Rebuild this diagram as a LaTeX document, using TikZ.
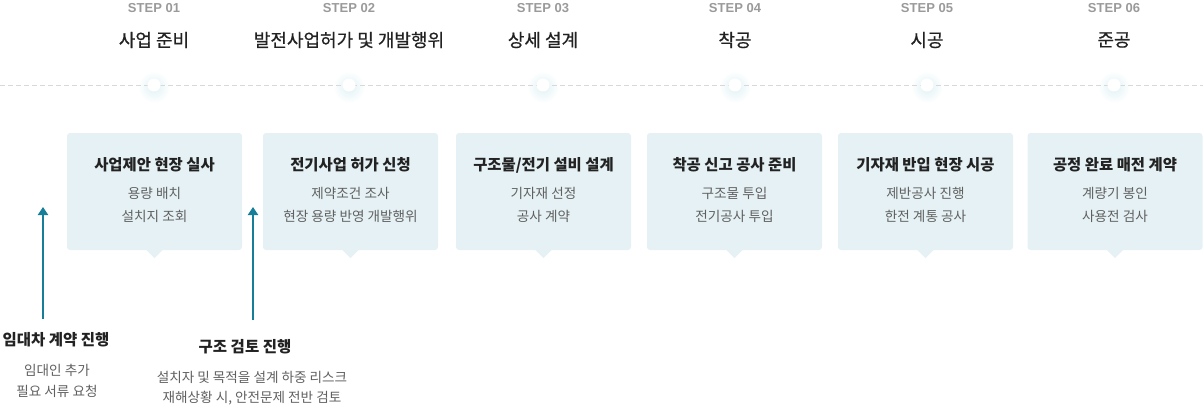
\documentclass[tikz,border=0pt]{standalone}
\usepackage{fontspec}
\setmainfont{Noto Sans CJK KR}
\newfontfamily\stepfont{Liberation Sans}
\newfontfamily\medfont[FakeBold=0.6]{Noto Sans CJK KR}
\usetikzlibrary{arrows.meta}
\definecolor{boxc}{HTML}{E5F1F4}
\definecolor{teal}{HTML}{167E98}
\definecolor{dashc}{HTML}{D8D8D8}
\definecolor{stepc}{HTML}{9A9A9A}
\definecolor{subc}{HTML}{606060}
\definecolor{titc}{HTML}{222222}
\definecolor{glowc}{HTML}{E0F1F5}
\tikzset{
  x=1pt, y=-1pt,
  boxnode/.style={fill=boxc, rounded corners=3pt, minimum width=175pt, minimum height=117pt, inner sep=0pt},
  steplbl/.style={font=\stepfont\bfseries\fontsize{13}{15}\selectfont, text=stepc, inner sep=0pt},
  toptitle/.style={font=\medfont\fontsize{18}{21}\selectfont, text=titc, inner sep=0pt},
  boxtitle/.style={font=\bfseries\fontsize{15.4}{18}\selectfont, text=titc, inner sep=0pt},
  subtxt/.style={font=\fontsize{13.6}{16}\selectfont, text=subc, inner sep=0pt},
  lowtitle/.style={font=\bfseries\fontsize{15.5}{18}\selectfont, text=titc, inner sep=0pt},
  uparrow/.style={draw=teal, line width=2pt, -{Triangle[width=10pt,length=8pt]}},
}
\begin{document}
\begin{tikzpicture}
\useasboundingbox (0,0) rectangle (1203,408);
% timeline glows
\foreach \i/\x in {1/154,2/349,3/543,4/735,5/927,6/1114}{
  \shade[inner color=glowc, outer color=white] (\x,87) circle (16pt);
}
\draw[dashc, line width=0.8pt, dash pattern=on 5pt off 3pt] (0,85) -- (1203,85);
\foreach \i/\x/\t in {1/154/{사업 준비},2/349/{발전사업허가 및 개발행위},3/543/{상세 설계},4/735/{착공},5/927/{시공},6/1114/{준공}}{
  \node[steplbl] (s\i) at (\x,8) {STEP 0\i};
  \node[toptitle] (t\i) at (\x,40) {\t};
  \fill[white] (\x,85) circle (6.5pt);
  \node[circle, inner sep=0pt, minimum size=13pt] (d\i) at (\x,85) {};
}
% boxes
\foreach \i/\x/\a/\b/\c in {
  1/154.5/{사업제안 현장 실사}/{용량 배치}/{설치지 조회},
  2/350.5/{전기사업 허가 신청}/{제약조건 조사}/{현장 용량 반영 개발행위},
  3/543.5/{구조물/전기 설비 설계}/{기자재 선정}/{공사 계약},
  4/734.5/{착공 신고 공사 준비}/{구조물 투입}/{전기공사 투입},
  5/925.5/{기자재 반입 현장 시공}/{제반공사 진행}/{한전 계통 공사},
  6/1115/{공정 완료 매전 계약}/{계량기 봉인}/{사용전 검사}}{
  \node[boxnode] (b\i) at (\x,191.5) {};
  \fill[boxc] ([xshift=-8pt]b\i.south) -- ([xshift=8pt]b\i.south) -- ([yshift=-8pt]b\i.south) -- cycle;
  \node[boxtitle] (bt\i) at (\x,165) {\a};
  \node[subtxt] (ba\i) at (\x,193) {\b};
  \node[subtxt] (bb\i) at (\x,216) {\c};
}
% lower notes
\node[lowtitle] (n1) at (56,340) {임대차 계약 진행};
\node[subtxt] (n1a) at (57,370) {임대인 추가};
\node[subtxt] (n1b) at (57,391) {필요 서류 요청};
\node[lowtitle] (n2) at (245,347) {구조 검토 진행};
\node[subtxt] (n2a) at (252,377) {설치자 및 목적을 설계 하중 리스크};
\node[subtxt] (n2b) at (252,398) {재해상황 시, 안전문제 전반 검토};
\coordinate (a1s) at (43,319);
\coordinate (a1e) at (43,207);
\coordinate (a2s) at (253,320);
\coordinate (a2e) at (253,207);
\draw[uparrow] (a1s) -- (a1e);
\draw[uparrow] (a2s) -- (a2e);
\end{tikzpicture}
\end{document}
